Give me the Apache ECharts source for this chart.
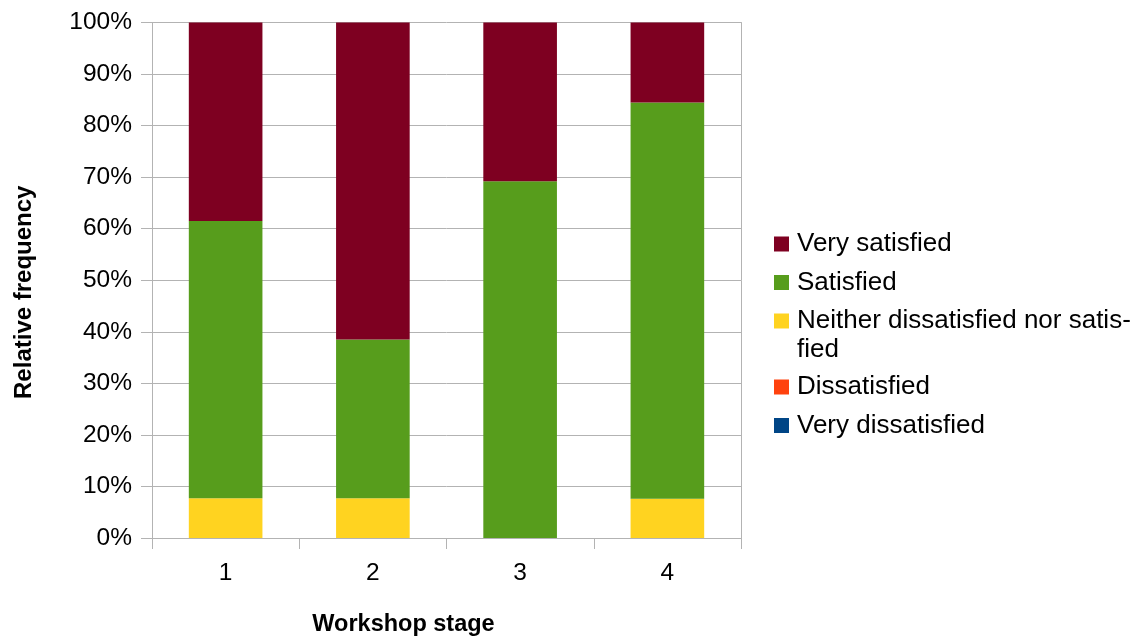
<!DOCTYPE html>
<html>
<head>
<meta charset="utf-8">
<script src="https://cdn.jsdelivr.net/npm/echarts@6/dist/echarts.min.js"></script>
<style>
html,body{margin:0;padding:0;background:#fff;overflow:hidden;}
#chart{width:1144px;height:637px;}
</style>
</head>
<body>
<div id="chart"></div>
<script>
const stages = ['1', '2', '3', '4'];
const veryDissatisfied = [0, 0, 0, 0];
const dissatisfied = [0, 0, 0, 0];
const neither = [7.7, 7.7, 0, 7.6];
const satisfied = [53.8, 30.8, 69.2, 76.9];
const verySatisfied = [38.5, 61.5, 30.8, 15.5];
const yTicks = [0, 10, 20, 30, 40, 50, 60, 70, 80, 90, 100];

const FONT = 'Liberation Sans';
const grid = '#b3b3b3';
const chart = echarts.init(document.getElementById('chart'));

function bar(name, data, color) {
  return { name, type: 'bar', stack: 'total', data, barWidth: '50%',
    itemStyle: { color }, emphasis: { disabled: true } };
}

const legendText = { fontFamily: FONT, fontSize: 26, color: '#000', lineHeight: 24, padding: [0, 0, 0, 3] };

chart.setOption({
  animation: false,
  textStyle: { fontFamily: FONT },
  grid: { left: 152, width: 589, top: 22.5, height: 515.5, containLabel: false, outerBoundsMode: 'none' },
  xAxis: {
    type: 'category', data: stages,
    name: 'Workshop stage', nameLocation: 'middle', nameGap: 75,
    nameTextStyle: { fontFamily: FONT, fontSize: 23.5, fontWeight: 'bold', color: '#000', padding: [0, 86, 0, 0] },
    axisLine: { lineStyle: { color: grid, width: 1 } },
    axisTick: { show: true, length: 11, lineStyle: { color: grid } },
    axisLabel: { fontFamily: FONT, fontSize: 24.5, color: '#000', margin: 23 },
    splitLine: { show: false }
  },
  yAxis: [{
    type: 'value', min: 0, max: 100, interval: 10,
    name: 'Relative frequency', nameLocation: 'middle', nameGap: 116,
    nameTextStyle: { fontFamily: FONT, fontSize: 24, fontWeight: 'bold', color: '#000', padding: [0, 24, 0, 0] },
    axisLine: { show: true, lineStyle: { color: grid } },
    axisTick: { show: true, length: 11, lineStyle: { color: grid } },
    axisLabel: { fontFamily: FONT, fontSize: 24.5, color: '#000', margin: 20,
      formatter: v => yTicks.includes(v) ? v + '%' : '' },
    splitLine: { show: true, lineStyle: { color: grid, width: 1 } }
  }, {
    type: 'value', min: 0, max: 100, interval: 10, position: 'right',
    axisLine: { show: true, lineStyle: { color: grid } },
    axisTick: { show: false }, axisLabel: { show: false }, splitLine: { show: false }
  }],
  legend: [{
    orient: 'vertical', left: 774, top: 231, padding: 0,
    itemWidth: 15, itemHeight: 15, itemGap: 12.5,
    icon: 'rect', selectedMode: false,
    data: ['Very satisfied', 'Satisfied', 'Neither dissatisfied nor satisfied'],
    formatter: n => n === 'Neither dissatisfied nor satisfied' ? 'Neither dissatisfied nor satis-' : n,
    textStyle: legendText
  }, {
    orient: 'vertical', left: 774, top: 374, padding: 0,
    itemWidth: 15, itemHeight: 15, itemGap: 12.5,
    icon: 'rect', selectedMode: false,
    data: ['Dissatisfied', 'Very dissatisfied'],
    textStyle: legendText
  }],
  graphic: [{
    type: 'text', left: 797, top: 337,
    style: { text: 'fied', font: '26px "Liberation Sans"', fill: '#000' }
  }],
  series: [
    bar('Very dissatisfied', veryDissatisfied, '#004586'),
    bar('Dissatisfied', dissatisfied, '#ff420e'),
    bar('Neither dissatisfied nor satisfied', neither, '#ffd320'),
    bar('Satisfied', satisfied, '#579d1c'),
    bar('Very satisfied', verySatisfied, '#7e0021')
  ]
});
</script>
</body>
</html>
